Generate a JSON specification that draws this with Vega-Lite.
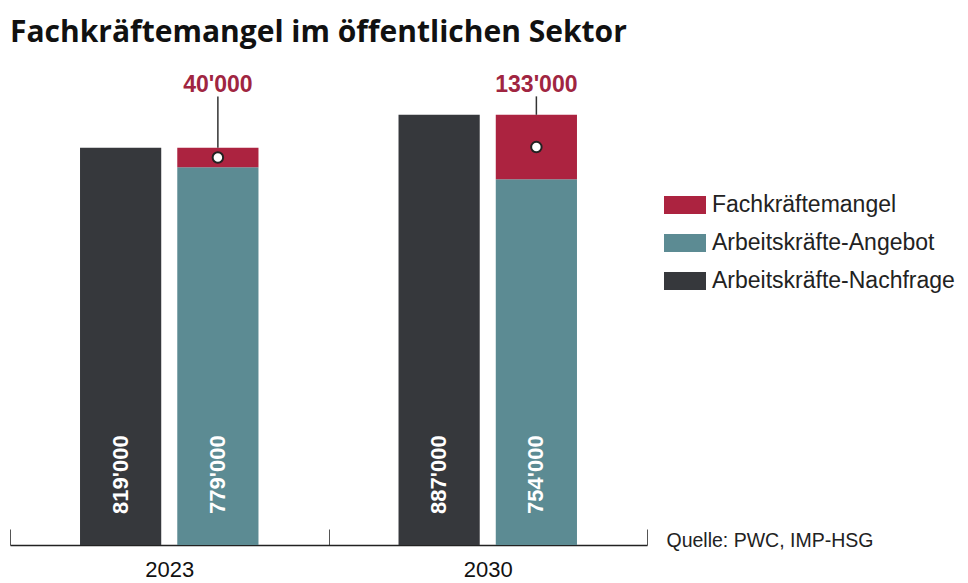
{
  "$schema": "https://vega.github.io/schema/vega-lite/v6.json",
  "width": 637,
  "height": 485,
  "autosize": {"type": "none"},
  "padding": {"left": 10, "top": 60, "right": 321, "bottom": 38},
  "title": {"text": "Fachkräftemangel im öffentlichen Sektor", "anchor": "start", "frame": "group", "font": "Open Sans", "fontSize": 30, "fontWeight": "bold", "color": "#111111", "offset": 12},
  "config": {
    "view": {"stroke": null},
    "font": "Liberation Sans",
    "locale": {"number": {"decimal": ".", "thousands": "'", "grouping": [3], "currency": ["", ""]}}
  },
  "datasets": {
    "bars": [
      {"year": "2023", "serie": "Arbeitskräfte-Nachfrage", "gruppe": "Nachfrage", "wert": 819000},
      {"year": "2023", "serie": "Arbeitskräfte-Angebot", "gruppe": "Angebot", "wert": 779000},
      {"year": "2023", "serie": "Fachkräftemangel", "gruppe": "Angebot", "wert": 40000},
      {"year": "2030", "serie": "Arbeitskräfte-Nachfrage", "gruppe": "Nachfrage", "wert": 887000},
      {"year": "2030", "serie": "Arbeitskräfte-Angebot", "gruppe": "Angebot", "wert": 754000},
      {"year": "2030", "serie": "Fachkräftemangel", "gruppe": "Angebot", "wert": 133000}
    ],
    "luecke": [
      {"year": "2023", "gruppe": "Angebot", "angebot": 779000, "gesamt": 819000, "mangel": 40000},
      {"year": "2030", "gruppe": "Angebot", "angebot": 754000, "gesamt": 887000, "mangel": 133000}
    ]
  },
  "layer": [
    {
      "data": {"name": "bars"},
      "mark": {"type": "bar"},
      "encoding": {
        "x": {"field": "year", "type": "nominal", "scale": {"paddingInner": 0, "paddingOuter": 0},
          "axis": {"title": null, "labelAngle": 0, "labelFont": "Liberation Sans", "labelFontSize": 22, "labelColor": "#111111", "labelPadding": 30, "tickBand": "extent", "tickSize": -16, "tickColor": "#555555", "tickWidth": 1, "domainColor": "#222222", "domainWidth": 1.5}},
        "xOffset": {"field": "gruppe", "type": "nominal", "scale": {"domain": ["Nachfrage", "Angebot"], "paddingInner": 0.165, "paddingOuter": 0.72}},
        "y": {"field": "wert", "type": "quantitative", "stack": "zero", "scale": {"domain": [0, 1000000]},
          "axis": {"orient": "right", "labels": false, "ticks": false, "domain": false, "grid": false, "title": "Quelle: PWC, IMP-HSG", "titleAngle": 0, "titleAlign": "left", "titleBaseline": "middle", "titleX": 19, "titleY": 480, "titleFont": "Liberation Sans", "titleFontSize": 19.5, "titleFontWeight": "normal", "titleColor": "#222222"}},
        "color": {"field": "serie", "type": "nominal",
          "scale": {"domain": ["Fachkräftemangel", "Arbeitskräfte-Angebot", "Arbeitskräfte-Nachfrage"], "range": ["#ac2340", "#5c8b93", "#36383c"]},
          "legend": {"title": null, "orient": "none", "legendX": 654, "legendY": 126, "symbolType": "M-1,-0.43H1V0.43H-1Z", "symbolSize": 1764, "symbolStrokeWidth": 0, "symbolOpacity": 1, "clipHeight": 38, "rowPadding": 0, "labelOffset": 6, "labelFont": "Liberation Sans", "labelFontSize": 23, "labelColor": "#222222", "labelLimit": 400}},
        "order": {"field": "serie", "type": "nominal", "sort": "ascending"}
      }
    },
    {
      "data": {"name": "bars"},
      "transform": [{"filter": "datum.serie != 'Fachkräftemangel'"}],
      "mark": {"type": "text", "angle": 270, "align": "left", "baseline": "middle", "dx": 31, "fill": "#ffffff", "font": "Liberation Sans", "fontSize": 22, "fontWeight": "bold"},
      "encoding": {
        "x": {"field": "year", "type": "nominal"},
        "xOffset": {"field": "gruppe", "type": "nominal"},
        "y": {"datum": 0, "type": "quantitative"},
        "text": {"field": "wert", "type": "quantitative", "format": ",d"}
      }
    },
    {
      "data": {"name": "luecke"},
      "mark": {"type": "rule", "color": "#333333", "strokeWidth": 1.5},
      "encoding": {
        "x": {"field": "year", "type": "nominal"},
        "xOffset": {"field": "gruppe", "type": "nominal"},
        "y": {"field": "gesamt", "type": "quantitative"},
        "y2": {"datum": 925000}
      }
    },
    {
      "data": {"name": "luecke"},
      "transform": [
        {"fold": ["angebot", "gesamt"], "as": ["k", "v"]},
        {"aggregate": [{"op": "mean", "field": "v", "as": "mitte"}], "groupby": ["year", "gruppe"]}
      ],
      "mark": {"type": "point", "filled": true, "fill": "#ffffff", "stroke": "#222222", "strokeWidth": 2, "size": 110, "opacity": 1},
      "encoding": {
        "x": {"field": "year", "type": "nominal"},
        "xOffset": {"field": "gruppe", "type": "nominal"},
        "y": {"field": "mitte", "type": "quantitative"}
      }
    },
    {
      "data": {"name": "luecke"},
      "mark": {"type": "text", "baseline": "middle", "align": "center", "fill": "#a02541", "font": "Liberation Sans", "fontSize": 23, "fontWeight": "bold"},
      "encoding": {
        "x": {"field": "year", "type": "nominal"},
        "xOffset": {"field": "gruppe", "type": "nominal"},
        "y": {"datum": 948000, "type": "quantitative"},
        "text": {"field": "mangel", "type": "quantitative", "format": ",d"}
      }
    }
  ]
}
